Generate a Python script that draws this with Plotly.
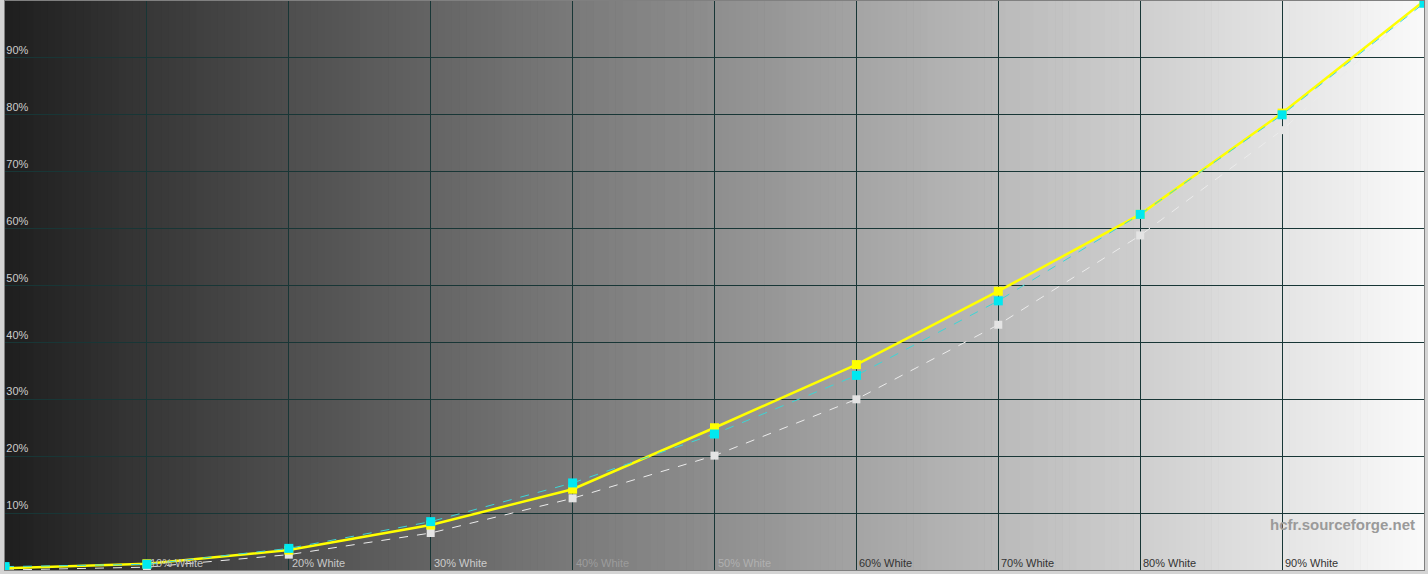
import plotly.graph_objects as go

# stimulus level (% white) and measured luminance (% of peak)
levels = [0, 10, 20, 30, 40, 50, 60, 70, 80, 90, 100]
reference = [0, 0.5, 2.7, 6.5, 12.6, 20.1, 30.0, 43.1, 58.8, 77.3, 100]
measured = [0.3, 1.1, 3.5, 7.9, 14.2, 25.0, 36.1, 49.0, 62.5, 80.3, 100]
measured_alt = [0.6, 1.0, 3.8, 8.5, 15.3, 23.9, 34.2, 47.3, 62.5, 80.0, 99.6]

x_labels = ["10% White", "20% White", "30% White", "40% White", "50% White",
            "60% White", "70% White", "80% White", "90% White"]
x_label_colors = ["#c4c4c4", "#c8c8c8", "#cccccc", "#9c9c9c", "#b0b0b0",
                  "#333333", "#333333", "#333333", "#333333"]
y_ticks = [10, 20, 30, 40, 50, 60, 70, 80, 90]
y_labels = ["10%", "20%", "30%", "40%", "50%", "60%", "70%", "80%", "90%"]

# grey value of the background patch under each stimulus level
bg_grey = [30, 55, 78, 100, 122, 142, 164, 186, 206, 228, 250]


def bg_shapes(step=0.5):
    shapes = []
    x = 0.0
    while x < 100:
        mid = x + step / 2
        i = min(int(mid // 10), 9)
        t = (mid - levels[i]) / 10
        g = round(bg_grey[i] + (bg_grey[i + 1] - bg_grey[i]) * t)
        shapes.append(dict(type="rect", xref="x", yref="y", x0=x, x1=x + step + 0.05,
                           y0=0, y1=100, layer="below", line_width=0,
                           fillcolor=f"rgb({g},{g},{g})"))
        x += step
    return shapes


fig = go.Figure()

fig.add_trace(go.Scatter(x=levels, y=reference, mode="lines+markers", name="Reference",
                         line=dict(color="#ececec", width=1, dash="dash"),
                         marker=dict(symbol="square", size=8, color="#e4e4e4")))
fig.add_trace(go.Scatter(x=levels, y=measured, mode="lines+markers", name="Y",
                         line=dict(color="#ffff00", width=2.5),
                         marker=dict(symbol="square", size=9, color="#ffff00")))
fig.add_trace(go.Scatter(x=levels, y=measured_alt, mode="lines+markers", name="Y ref",
                         line=dict(color="#3cd6d6", width=1, dash="dash"),
                         marker=dict(symbol="square", size=9, color="#00e8f0")))

annotations = []
for lv, txt, col in zip(levels[1:10], x_labels, x_label_colors):
    annotations.append(dict(x=lv, y=0, xref="x", yref="y", text=txt, showarrow=False,
                            xanchor="left", yanchor="bottom", xshift=1, yshift=-1,
                            font=dict(family="Liberation Sans", size=11, color=col)))
annotations.append(dict(x=0.995, y=0.08, xref="paper", yref="paper", text="<b>hcfr.sourceforge.net</b>",
                        showarrow=False, xanchor="right", yanchor="middle",
                        font=dict(family="Liberation Sans", size=15, color="#9a9a9a")))

fig.update_layout(
    width=1428, height=574,
    margin=dict(l=5, r=4, t=1, b=4),
    paper_bgcolor="#d4d4d4", plot_bgcolor="#1e1e1e",
    showlegend=False,
    shapes=bg_shapes(),
    annotations=annotations,
    xaxis=dict(range=[0, 100], tickvals=levels[1:10], showticklabels=False, ticks="",
               showgrid=True, gridcolor="#183636", gridwidth=1.4, zeroline=False,
               showline=True, linecolor="#808080", mirror=True),
    yaxis=dict(range=[0, 100], tickvals=y_ticks, ticktext=y_labels, ticks="",
               ticklabelposition="inside top",
               tickfont=dict(family="Liberation Sans", size=11, color="#cccccc"),
               showgrid=True, gridcolor="#183636", gridwidth=1.4, zeroline=False,
               showline=True, linecolor="#808080", mirror=True),
)

fig.write_html("out.html", config={"displayModeBar": False},
               post_script="document.body.style.margin='0';document.body.style.overflow='hidden';")
